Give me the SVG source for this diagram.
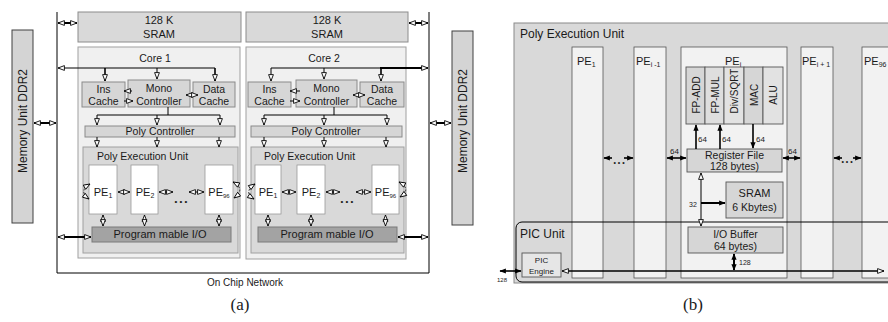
<svg xmlns="http://www.w3.org/2000/svg" width="888" height="322" viewBox="0 0 888 322">
<style>
text{font-family:"Liberation Sans",Arial,sans-serif;fill:#1a1a1a}
.t12{font-size:12px}.t11{font-size:11px}.t10{font-size:10px}.t105{font-size:10.5px}.t9{font-size:9.5px}.t8{font-size:8px}.t7{font-size:7px}.t6{font-size:6px}
.c{text-anchor:middle}
.cap{font-family:"Liberation Serif","Times New Roman",serif;font-size:17px;text-anchor:middle}
.mem{fill:#d4d4d4;stroke:#404040;stroke-width:1}
.sram{fill:#d9d9d9;stroke:#8c8c8c;stroke-width:1}
.core{fill:#f0f0f0;stroke:#a0a0a0;stroke-width:1}
.blk{fill:#d6d6d6;stroke:#8a8a8a;stroke-width:1}
.peu{fill:#d9d9d9;stroke:#a0a0a0;stroke-width:1}
.pe{fill:#ffffff;stroke:#9a9a9a;stroke-width:0.8}
.pio{fill:#a3a3a3;stroke:#7a7a7a;stroke-width:1}
.outer{fill:#d9d9d9;stroke:#8a8a8a;stroke-width:1}
.pe2{fill:#f2f2f2;stroke:#555;stroke-width:0.8}
.blk2{fill:#d6d6d6;stroke:#555;stroke-width:0.9}
.ln{stroke:#000;stroke-width:1;fill:none}
.th{stroke:#000;stroke-width:2;fill:none}
.md{stroke:#000;stroke-width:1.6;fill:none}
.dash{stroke:#000;stroke-width:0.8;fill:none;stroke-dasharray:2 1.5}
</style>
<defs>
<marker id="ao" viewBox="0 0 10 8" refX="9" refY="4" markerWidth="8" markerHeight="6.4" orient="auto-start-reverse" markerUnits="userSpaceOnUse"><path d="M1,1 L9,4 L1,7 z" fill="#fff" stroke="#000" stroke-width="1.1"/></marker>
<marker id="af" viewBox="0 0 10 8" refX="9" refY="4" markerWidth="6.5" markerHeight="5.5" orient="auto-start-reverse" markerUnits="userSpaceOnUse"><path d="M0,0 L10,4 L0,8 z" fill="#000"/></marker>
</defs>
<rect width="888" height="322" fill="#fff"/>

<!-- ===== (a) ===== -->
<g id="mem-left"><rect class="mem" x="12" y="30" width="21" height="193"/><text class="t12 c" transform="translate(26.5,121) rotate(-90)">Memory Unit  DDR2</text></g>
<g id="mem-right"><rect class="mem" x="452" y="31" width="21" height="194"/><text class="t12 c" transform="translate(466.5,121) rotate(-90)">Memory Unit  DDR2</text></g>
<g id="network"><path class="ln" d="M57,12 V273 H429 V12" stroke-width="1.2"/><text class="t10 c" x="245" y="286">On Chip Network</text></g>
<g id="sram1"><rect class="sram" x="78" y="12" width="163" height="30"/><text class="t11 c" x="159" y="24">128 K</text><text class="t11 c" x="159" y="38">SRAM</text></g>
<g id="sram2"><rect class="sram" x="246" y="12" width="162" height="30"/><text class="t11 c" x="327" y="24">128 K</text><text class="t11 c" x="327" y="38">SRAM</text></g>

<g id="core1"><rect class="core" x="78" y="47" width="162" height="211"/><text class="t105 c" x="155" y="62">Core 1</text></g>
<g id="core2"><rect class="core" x="246" y="47" width="160" height="212"/><text class="t105 c" x="324" y="62">Core 2</text></g>

<g id="inscache1"><rect class="blk" x="82" y="82" width="43" height="25"/><text class="t105 c" x="103.5" y="93">Ins</text><text class="t105 c" x="103.5" y="105">Cache</text></g>
<g id="mono1"><rect class="blk" x="128" y="80" width="62" height="27"/><text class="t105 c" x="159" y="92">Mono</text><text class="t105 c" x="159" y="105">Controller</text></g>
<g id="datacache1"><rect class="blk" x="193" y="82" width="42" height="25"/><text class="t105 c" x="214" y="93">Data</text><text class="t105 c" x="214" y="105">Cache</text></g>
<g id="inscache2"><rect class="blk" x="248" y="82" width="43" height="25"/><text class="t105 c" x="269.5" y="93">Ins</text><text class="t105 c" x="269.5" y="105">Cache</text></g>
<g id="mono2"><rect class="blk" x="296" y="80" width="61" height="27"/><text class="t105 c" x="326.5" y="92">Mono</text><text class="t105 c" x="326.5" y="105">Controller</text></g>
<g id="datacache2"><rect class="blk" x="360" y="82" width="44" height="25"/><text class="t105 c" x="382" y="93">Data</text><text class="t105 c" x="382" y="105">Cache</text></g>

<g id="polyctrl1"><rect class="blk" x="85" y="126" width="150" height="11"/><text class="t105 c" x="160" y="135">Poly Controller</text></g>
<g id="polyctrl2"><rect class="blk" x="251" y="126" width="151" height="11"/><text class="t105 c" x="326" y="135">Poly Controller</text></g>

<g id="peu1"><rect class="peu" x="83" y="147" width="155" height="106"/><text class="t105" x="97" y="160">Poly Execution Unit</text></g>
<g id="peu2"><rect class="peu" x="251" y="147" width="153" height="106"/><text class="t105" x="264" y="160">Poly Execution Unit</text></g>

<g id="c1pe1"><rect class="pe" x="89" y="165" width="28" height="49"/><text class="t11 c" x="103" y="196">PE<tspan font-size="7" dy="2">1</tspan></text></g>
<g id="c1pe2"><rect class="pe" x="131" y="165" width="27" height="49"/><text class="t11 c" x="145" y="196">PE<tspan font-size="7" dy="2">2</tspan></text></g>
<g id="c1pe96"><rect class="pe" x="205" y="165" width="28" height="49"/><text class="t11 c" x="219" y="196">PE<tspan font-size="6" dy="2">96</tspan></text></g>
<g id="c2pe1"><rect class="pe" x="255" y="165" width="26" height="49"/><text class="t11 c" x="268" y="196">PE<tspan font-size="7" dy="2">1</tspan></text></g>
<g id="c2pe2"><rect class="pe" x="297" y="165" width="28" height="49"/><text class="t11 c" x="311" y="196">PE<tspan font-size="7" dy="2">2</tspan></text></g>
<g id="c2pe96"><rect class="pe" x="372" y="165" width="27" height="49"/><text class="t11 c" x="385.5" y="196">PE<tspan font-size="6" dy="2">96</tspan></text></g>
<text class="t8 c" x="181" y="204">• • •</text>
<text class="t8 c" x="347" y="204">• • •</text>

<g id="pio1"><rect class="pio" x="92" y="227" width="139" height="15"/><text class="t11 c" x="160" y="238">Program mable I/O</text></g>
<g id="pio2"><rect class="pio" x="258" y="227" width="139" height="15"/><text class="t11 c" x="327" y="238">Program mable I/O</text></g>

<g id="connectors-a">
<line class="th" x1="58" y1="23" x2="77" y2="23" marker-start="url(#ao)" marker-end="url(#ao)"/>
<line class="th" x1="409" y1="23" x2="428" y2="23" marker-start="url(#ao)" marker-end="url(#ao)"/>
<line class="th" x1="34" y1="123" x2="56" y2="123" marker-start="url(#ao)" marker-end="url(#ao)"/>
<line class="th" x1="430" y1="123" x2="451" y2="123" marker-start="url(#ao)" marker-end="url(#ao)"/>
<line class="th" x1="58" y1="237" x2="91" y2="237" marker-start="url(#ao)" marker-end="url(#ao)"/>
<line class="th" x1="398" y1="237" x2="428" y2="237" marker-start="url(#ao)" marker-end="url(#ao)"/>
<!-- core1 bus -->
<line class="ln" x1="215" y1="68" x2="58" y2="68" marker-end="url(#ao)"/>
<line class="md" x1="105" y1="68" x2="105" y2="81" marker-end="url(#ao)"/>
<line class="ln" x1="157" y1="68" x2="157" y2="79" marker-end="url(#ao)"/>
<line class="md" x1="215" y1="68" x2="215" y2="81" marker-end="url(#ao)"/>
<!-- core2 bus -->
<line class="ln" x1="271" y1="68" x2="380" y2="68"/>
<line class="th" x1="380" y1="68" x2="428" y2="68" marker-end="url(#ao)"/>
<line class="ln" x1="271" y1="68" x2="271" y2="81" marker-end="url(#ao)"/>
<line class="ln" x1="324" y1="68" x2="324" y2="79" marker-end="url(#ao)"/>
<line class="md" x1="381" y1="68" x2="381" y2="81" marker-end="url(#ao)"/>
<!-- cache arrows -->
<line class="ln" x1="132" y1="91" x2="124" y2="91" marker-end="url(#ao)"/>
<line class="ln" x1="124" y1="101" x2="133" y2="101" marker-end="url(#ao)"/>
<line class="ln" x1="186" y1="95" x2="198" y2="95" marker-start="url(#ao)" marker-end="url(#ao)"/>
<line class="ln" x1="300" y1="91" x2="290" y2="91" marker-end="url(#ao)"/>
<line class="ln" x1="290" y1="101" x2="300" y2="101" marker-end="url(#ao)"/>
<line class="ln" x1="353" y1="95" x2="365" y2="95" marker-start="url(#ao)" marker-end="url(#ao)"/>
<!-- mono to poly ctrl -->
<path class="ln" d="M168,107 V115 M97,115 H220"/>
<line class="ln" x1="97" y1="115" x2="97" y2="125" marker-end="url(#ao)"/>
<line class="ln" x1="157" y1="115" x2="157" y2="125" marker-end="url(#ao)"/>
<line class="ln" x1="220" y1="115" x2="220" y2="125" marker-end="url(#ao)"/>
<path class="ln" d="M334,107 V115 M264,115 H387"/>
<line class="ln" x1="264" y1="115" x2="264" y2="125" marker-end="url(#ao)"/>
<line class="ln" x1="324" y1="115" x2="324" y2="125" marker-end="url(#ao)"/>
<line class="ln" x1="387" y1="115" x2="387" y2="125" marker-end="url(#ao)"/>
<!-- poly ctrl to PEU -->
<line class="ln" x1="97" y1="137" x2="97" y2="147" marker-end="url(#ao)"/>
<line class="ln" x1="157" y1="137" x2="157" y2="147" marker-end="url(#ao)"/>
<line class="ln" x1="219" y1="137" x2="219" y2="147" marker-end="url(#ao)"/>
<line class="ln" x1="264" y1="137" x2="264" y2="147" marker-end="url(#ao)"/>
<line class="ln" x1="324" y1="137" x2="324" y2="147" marker-end="url(#ao)"/>
<line class="ln" x1="386" y1="137" x2="386" y2="147" marker-end="url(#ao)"/>
<!-- PE neighbours -->
<line class="ln" x1="118" y1="192" x2="130" y2="192" marker-start="url(#ao)" marker-end="url(#ao)"/>
<line class="ln" x1="159" y1="192" x2="173" y2="192" marker-start="url(#ao)" marker-end="url(#ao)"/>
<line class="ln" x1="189" y1="192" x2="204" y2="192" marker-start="url(#ao)" marker-end="url(#ao)"/>
<line class="ln" x1="282" y1="192" x2="296" y2="192" marker-start="url(#ao)" marker-end="url(#ao)"/>
<line class="ln" x1="326" y1="192" x2="340" y2="192" marker-start="url(#ao)" marker-end="url(#ao)"/>
<line class="ln" x1="356" y1="192" x2="371" y2="192" marker-start="url(#ao)" marker-end="url(#ao)"/>
<!-- wrap-around -->
<path class="dash" d="M90,184 Q78,191 89,199" marker-start="url(#ao)" marker-end="url(#ao)"/>
<path class="dash" d="M233,182 Q246,189 234,198" marker-start="url(#ao)" marker-end="url(#ao)"/>
<path class="dash" d="M255,184 Q243,192 254,199" marker-start="url(#ao)" marker-end="url(#ao)"/>
<path class="dash" d="M399,182 Q412,189 400,197" marker-start="url(#ao)" marker-end="url(#ao)"/>
<!-- PE to I/O -->
<line class="ln" x1="103" y1="215" x2="103" y2="226" marker-start="url(#ao)" marker-end="url(#ao)"/>
<line class="ln" x1="144.5" y1="215" x2="144.5" y2="226" marker-start="url(#ao)" marker-end="url(#ao)"/>
<line class="ln" x1="219" y1="215" x2="219" y2="226" marker-start="url(#ao)" marker-end="url(#ao)"/>
<line class="ln" x1="268" y1="215" x2="268" y2="226" marker-start="url(#ao)" marker-end="url(#ao)"/>
<line class="ln" x1="311" y1="215" x2="311" y2="226" marker-start="url(#ao)" marker-end="url(#ao)"/>
<line class="ln" x1="385.5" y1="215" x2="385.5" y2="226" marker-start="url(#ao)" marker-end="url(#ao)"/>
</g>
<text class="cap" x="240" y="310">(a)</text>

<!-- ===== (b) ===== -->
<g id="polyexec"><rect class="outer" x="514" y="23" width="380" height="260"/><text class="t12" x="520" y="38">Poly Execution Unit</text></g>
<g id="pe1"><rect class="pe2" x="572" y="47" width="31" height="231"/><text class="t11" x="577" y="65">PE<tspan font-size="7" dy="2">1</tspan></text></g>
<g id="pei-1"><rect class="pe2" x="634" y="47" width="32" height="231"/><text class="t11" x="636" y="65">PE<tspan font-size="7" dy="2">i -1</tspan></text></g>
<g id="pei"><rect class="pe2" x="681" y="47" width="106" height="231"/><text class="t11" x="725" y="65">PE<tspan font-size="7" dy="2">i</tspan></text></g>
<g id="pei+1"><rect class="pe2" x="801" y="47" width="32" height="231"/><text class="t11" x="802" y="65">PE<tspan font-size="7" dy="2">i + 1</tspan></text></g>
<g id="pe96"><rect class="pe2" x="862" y="47" width="40" height="231"/><text class="t11" x="864" y="65">PE<tspan font-size="7" dy="2">96</tspan></text></g>

<g id="units">
<rect class="blk2" x="686" y="67" width="19" height="57"/><text class="t10 c" transform="translate(699.5,95) rotate(-90)">FP-ADD</text>
<rect class="blk2" x="705" y="67" width="19" height="57" style="fill:#dedede"/><text class="t10 c" transform="translate(718.5,95) rotate(-90)">FP-MUL</text>
<rect class="blk2" x="724" y="67" width="20" height="57" style="fill:#e2e2e2"/><text class="t10 c" transform="translate(738,91) rotate(-90)">Div/SQRT</text>
<rect class="blk2" x="744" y="67" width="19" height="57"/><text class="t10 c" transform="translate(757.5,95) rotate(-90)">MAC</text>
<rect class="blk2" x="763" y="67" width="20" height="57" style="fill:#e2e2e2"/><text class="t10 c" transform="translate(777,95) rotate(-90)">ALU</text>
</g>
<g id="regfile"><rect class="blk2" x="687" y="149" width="95" height="23"/><text class="t105 c" x="734.5" y="159">Register File</text><text class="t105 c" x="734.5" y="170">128 bytes)</text></g>
<g id="sram-pe"><rect class="blk2" x="726" y="182" width="57" height="36"/><text class="t11 c" x="754.5" y="197">SRAM</text><text class="t105 c" x="754.5" y="211">6 Kbytes)</text></g>
<g id="iobuf"><rect class="blk2" x="688" y="227" width="95" height="26"/><text class="t105 c" x="735.5" y="238">I/O Buffer</text><text class="t105 c" x="735.5" y="250">64 bytes)</text></g>
<g id="picunit"><rect x="516" y="222" width="390" height="60" rx="6" fill="none" stroke="#000" stroke-width="1"/><text class="t12" x="520" y="238">PIC Unit</text></g>
<g id="picengine"><rect x="522" y="253" width="39" height="24" fill="#e6e6e6" stroke="#555" stroke-width="0.9"/><text class="t8 c" x="541.5" y="263">PIC</text><text class="t8 c" x="541.5" y="274">Engine</text></g>

<g id="connectors-b">
<line class="md" x1="562" y1="271" x2="884" y2="271" marker-start="url(#ao)" marker-end="url(#ao)"/>
<line class="md" x1="500" y1="271" x2="521" y2="271" marker-start="url(#af)" marker-end="url(#af)"/>
<text class="t6" x="497" y="282">128</text>
<line class="md" x1="696" y1="149" x2="696" y2="125" marker-end="url(#af)"/>
<line class="md" x1="720" y1="149" x2="720" y2="125" marker-end="url(#af)"/>
<line class="md" x1="753" y1="124" x2="753" y2="148" marker-end="url(#af)"/>
<text class="t8" x="698" y="142">64</text><text class="t8" x="722" y="142">64</text><text class="t8" x="756" y="142">64</text>
<line class="md" x1="667" y1="158" x2="686" y2="158" marker-start="url(#af)" marker-end="url(#af)"/>
<text class="t8" x="670" y="154">64</text>
<line class="md" x1="783" y1="158" x2="800" y2="158" marker-start="url(#af)" marker-end="url(#af)"/>
<text class="t8" x="788" y="154">64</text>
<line class="md" x1="612" y1="158" x2="604" y2="158" marker-end="url(#af)"/>
<line class="md" x1="624" y1="158" x2="633" y2="158" marker-end="url(#af)"/>
<text class="t7 c" x="619" y="165">• • •</text>
<line class="md" x1="842" y1="158" x2="834" y2="158" marker-end="url(#af)"/>
<line class="md" x1="853" y1="158" x2="861" y2="158" marker-end="url(#af)"/>
<text class="t7 c" x="847" y="164">• • •</text>
<line class="ln" x1="701" y1="173" x2="701" y2="226" marker-start="url(#ao)" marker-end="url(#ao)"/>
<line class="th" x1="701" y1="203" x2="725" y2="203" marker-end="url(#af)"/>
<text class="t7" x="689" y="207">32</text>
<line class="th" x1="734" y1="254" x2="734" y2="270" marker-start="url(#af)" marker-end="url(#af)"/>
<text class="t7" x="739" y="265">128</text>
</g>
<text class="cap" x="693" y="310">(b)</text>
</svg>
